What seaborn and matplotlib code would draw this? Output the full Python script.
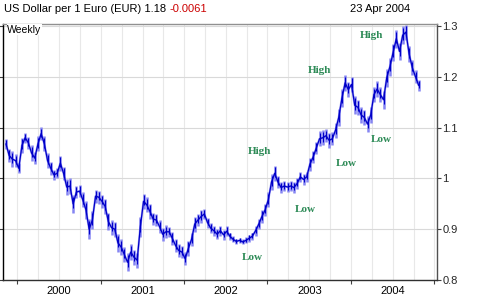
import matplotlib
matplotlib.use("Agg")
import matplotlib.pyplot as plt
import matplotlib.dates as mdates
import seaborn as sns
import pandas as pd
import numpy as np

# ---- data (bi-weekly closes) ----
start_date = "1999-05-14"
eur_close = [
    1.068, 1.045, 1.038, 1.035, 1.020, 1.065, 1.080, 1.070, 1.050, 1.040,
    1.068, 1.088, 1.068, 1.035, 1.020, 1.007, 1.010, 1.030, 1.010, 0.983,
    0.985, 0.950, 0.973, 0.975, 0.958, 0.938, 0.900, 0.918, 0.965, 0.963,
    0.955, 0.945, 0.915, 0.903, 0.900, 0.873, 0.865, 0.850, 0.835, 0.855,
    0.845, 0.839, 0.905, 0.955, 0.948, 0.935, 0.920, 0.918, 0.905, 0.890,
    0.895, 0.895, 0.882, 0.868, 0.858, 0.855, 0.842, 0.862, 0.880, 0.910,
    0.918, 0.925, 0.930, 0.913, 0.902, 0.897, 0.890, 0.897, 0.889, 0.896,
    0.886, 0.880, 0.876, 0.878, 0.875, 0.878, 0.882, 0.886, 0.897, 0.910,
    0.925, 0.938, 0.958, 0.993, 1.010, 0.993, 0.982, 0.985, 0.983, 0.985,
    0.982, 0.990, 1.003, 0.998, 1.003, 1.028, 1.042, 1.060, 1.078, 1.080,
    1.084, 1.075, 1.078, 1.095, 1.120, 1.158, 1.188, 1.175, 1.185, 1.144,
    1.140, 1.125, 1.120, 1.107, 1.125, 1.165, 1.176, 1.165, 1.155, 1.198,
    1.220, 1.248, 1.275, 1.250, 1.282, 1.288, 1.245, 1.218, 1.200, 1.183,
]
# visible weekly high-low bar heights around each close (estimated)
eur_range = [
    0.020, 0.025, 0.030, 0.025, 0.020, 0.030, 0.020, 0.025, 0.030, 0.025,
    0.030, 0.025, 0.030, 0.030, 0.025, 0.020, 0.020, 0.030, 0.025, 0.030,
    0.030, 0.035, 0.025, 0.025, 0.030, 0.035, 0.040, 0.035, 0.025, 0.025,
    0.025, 0.030, 0.035, 0.030, 0.030, 0.035, 0.030, 0.030, 0.035, 0.030,
    0.030, 0.030, 0.040, 0.030, 0.030, 0.030, 0.025, 0.025, 0.025, 0.025,
    0.025, 0.020, 0.025, 0.025, 0.025, 0.025, 0.025, 0.030, 0.025, 0.030,
    0.025, 0.025, 0.020, 0.020, 0.020, 0.020, 0.020, 0.020, 0.020, 0.020,
    0.015, 0.012, 0.010, 0.010, 0.010, 0.012, 0.015, 0.015, 0.020, 0.020,
    0.025, 0.025, 0.030, 0.030, 0.030, 0.025, 0.020, 0.020, 0.020, 0.020,
    0.020, 0.020, 0.020, 0.020, 0.020, 0.025, 0.025, 0.025, 0.030, 0.030,
    0.025, 0.030, 0.025, 0.030, 0.035, 0.035, 0.030, 0.030, 0.030, 0.035,
    0.030, 0.030, 0.030, 0.030, 0.030, 0.030, 0.030, 0.030, 0.035, 0.035,
    0.035, 0.035, 0.035, 0.035, 0.035, 0.030, 0.030, 0.030, 0.025, 0.020,
]
year_labels = ["2000", "2001", "2002", "2003", "2004"]
y_ticks = [0.8, 0.9, 1.0, 1.1, 1.2, 1.3]
y_tick_labels = ["0.8", "0.9", "1", "1.1", "1.2", "1.3"]
title_main = "US Dollar per 1 Euro (EUR) 1.18 "
title_change = "-0.0061"
title_date = "23 Apr 2004"
notes = [
    ("High", "2002-05-28", 1.052),
    ("Low", "2002-04-27", 0.845),
    ("Low", "2002-12-12", 0.938),
    ("Low", "2003-06-10", 1.030),
    ("Low", "2003-11-10", 1.076),
    ("High", "2003-02-14", 1.213),
    ("High", "2003-09-28", 1.281),
]

dates = pd.date_range(start_date, periods=len(eur_close), freq="14D")
df = pd.DataFrame({"date": dates, "close": eur_close, "rng": eur_range})
df["lo"] = df["close"] - df["rng"] / 2
df["hi"] = df["close"] + df["rng"] / 2

sns.set_theme(style="white")
plt.rcParams["font.family"] = ["Liberation Sans", "DejaVu Sans"]

fig = plt.figure(figsize=(4.86, 3.0), dpi=100)
ax = fig.add_axes([3 / 486, 1 - 280 / 300, 434 / 486, 256 / 300])

# quarterly vertical grid
for d in pd.date_range("1999-07-01", "2004-07-01", freq="QS-JAN"):
    ax.axvline(d, color="#e8e8e8", lw=0.8, zorder=0)
for v in y_ticks:
    ax.axhline(v, color="#d9d9d9", lw=0.8, zorder=0)

# light range bars
ax.vlines(df["date"], df["lo"], df["hi"], color="#8585f2", lw=1.8, zorder=2)
sns.lineplot(data=df, x="date", y="close", ax=ax, color="#7070f0", lw=1.6,
             estimator=None, alpha=0.6, zorder=2)
sns.lineplot(data=df, x="date", y="close", ax=ax, color="#0000c8", lw=0.9,
             estimator=None, zorder=3)
ax.vlines(df["date"], df["lo"] + df["rng"] * 0.25, df["hi"] - df["rng"] * 0.1,
          color="#0000c8", lw=0.8, zorder=3)

ax.set_xlim(pd.Timestamp("1999-05-01"), pd.Timestamp("2004-07-12"))
ax.set_ylim(0.8, 1.304)
ax.set_xlabel("")
ax.set_ylabel("")

ax.xaxis.set_major_locator(mdates.YearLocator(month=1, day=1))
ax.xaxis.set_major_formatter(mdates.DateFormatter("%Y"))
ax.xaxis.set_minor_locator(mdates.MonthLocator(bymonth=[7], bymonthday=1))
ax.tick_params(axis="x", which="major", length=0, labelsize=8, pad=4, colors="black")
ax.tick_params(axis="x", which="minor", length=3, width=0.8, direction="out",
               color="#404040", bottom=True)

ax.set_yticks(y_ticks)
ax.set_yticklabels(y_tick_labels)
ax.tick_params(axis="y", left=True, right=True, labelleft=False, labelright=True,
               length=3, width=0.8, direction="out", labelsize=8, pad=1,
               color="#404040")

for side in ["left", "bottom", "right", "top"]:
    ax.spines[side].set_visible(True)
    ax.spines[side].set_linewidth(1.0)
ax.spines["left"].set_color("black")
ax.spines["bottom"].set_color("#303030")
ax.spines["right"].set_color("#505050")
ax.spines["top"].set_color("#909090")

ax.text(0.01, 0.998, "Weekly", transform=ax.transAxes, ha="left", va="top",
        fontsize=7.5, color="black",
        bbox=dict(facecolor="white", edgecolor="none", pad=0.3))

for label, d, v in notes:
    ax.text(pd.Timestamp(d), v, label, ha="center", va="center",
            fontsize=8, fontweight="bold", color="#2e8b57",
            family=["Liberation Serif", "DejaVu Serif"], zorder=4)

t1 = fig.text(4 / 486, 1 - 9 / 300, title_main, ha="left", va="center",
              fontsize=8, color="black")
fig.canvas.draw()
bb = t1.get_window_extent()
x_end = fig.transFigure.inverted().transform((bb.x1, bb.y0))[0]
fig.text(x_end, 1 - 9 / 300, title_change, ha="left", va="center",
         fontsize=8, color="#cc0000")
fig.text(410 / 486, 1 - 9 / 300, title_date, ha="right", va="center",
         fontsize=8, color="black")

fig.savefig("out.png", dpi=100, facecolor="white")
